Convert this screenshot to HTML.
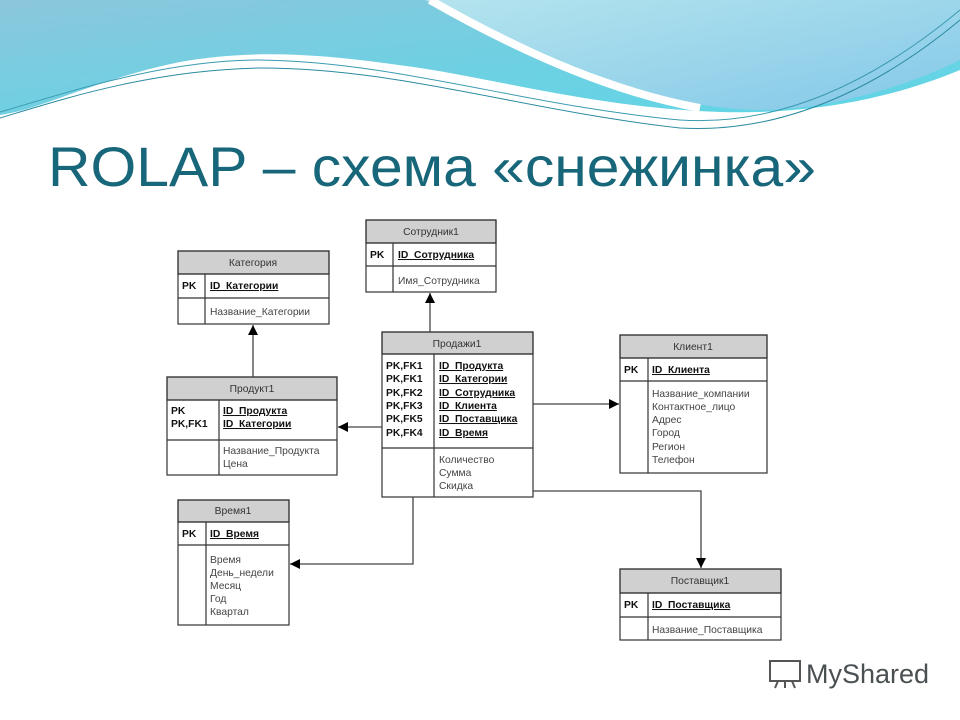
<!DOCTYPE html>
<html><head><meta charset="utf-8"><style>
html,body{margin:0;padding:0;background:#fff;}
svg{display:block;}
text{font-family:"Liberation Sans",sans-serif;}
.b{font-size:10.3px;font-weight:bold;fill:#111;}
.h{font-size:10.3px;fill:#333;}
.g{font-size:10.3px;fill:#444;}
</style></head><body>
<svg width="960" height="720" viewBox="0 0 960 720" xmlns="http://www.w3.org/2000/svg">
<defs>
<linearGradient id="bg1" x1="0" y1="0" x2="1" y2="1">
<stop offset="0" stop-color="#8cc6dc"/><stop offset="0.5" stop-color="#6fd0e2"/><stop offset="1" stop-color="#5fd6e6"/>
</linearGradient>
<linearGradient id="bg2" x1="0" y1="0" x2="1" y2="1">
<stop offset="0" stop-color="#b4e4ee"/><stop offset="1" stop-color="#84c8e8"/>
</linearGradient>
<marker id="ar" viewBox="0 0 10 10" refX="10" refY="5" markerWidth="10" markerHeight="10" markerUnits="userSpaceOnUse" orient="auto">
<path d="M0,0 L10,5 L0,10 z" fill="#000"/></marker>
</defs>
<path d="M0,0 H960 V70 C900,95 820,115 720,112 C600,108 500,80 420,68 C330,55 260,48 180,62 C100,78 40,110 0,115 Z" fill="url(#bg1)"/>
<path d="M425,0 H960 V60 C900,90 820,110 760,110 C650,108 560,60 425,0 Z" fill="url(#bg2)"/>
<path d="M430,0 C500,40 600,90 700,108" stroke="#fff" stroke-width="8" fill="none"/>
<path d="M0,118 C60,100 150,70 260,68 C400,68 520,110 680,128 C800,135 900,70 960,20" stroke="#2a8aa0" stroke-width="1" fill="none"/>
<path d="M0,112 C60,95 160,60 260,60 C400,62 520,105 680,120 C800,128 900,60 960,10" stroke="#3a9ab0" stroke-width="1" fill="none"/>
<text x="48" y="186" font-size="56" fill="#17667a" textLength="768" lengthAdjust="spacingAndGlyphs">ROLAP – схема «снежинка»</text>

<g stroke="#333" stroke-width="1.2" fill="none">
<rect x="178" y="251" width="151" height="23" fill="#d0d0d0"/>
<rect x="178" y="251" width="151" height="73"/>
<line x1="178" y1="274" x2="329" y2="274"/><line x1="178" y1="298" x2="329" y2="298"/><line x1="205" y1="274" x2="205" y2="324"/>
<rect x="366" y="220" width="130" height="23" fill="#d0d0d0"/>
<rect x="366" y="220" width="130" height="72"/>
<line x1="366" y1="243" x2="496" y2="243"/><line x1="366" y1="266" x2="496" y2="266"/><line x1="393" y1="243" x2="393" y2="292"/>
<rect x="382" y="332" width="151" height="22" fill="#d0d0d0"/>
<rect x="382" y="332" width="151" height="165"/>
<line x1="382" y1="354" x2="533" y2="354"/><line x1="382" y1="448" x2="533" y2="448"/><line x1="434" y1="354" x2="434" y2="497"/>
<rect x="167" y="377" width="170" height="23" fill="#d0d0d0"/>
<rect x="167" y="377" width="170" height="98"/>
<line x1="167" y1="400" x2="337" y2="400"/><line x1="167" y1="440" x2="337" y2="440"/><line x1="219" y1="400" x2="219" y2="475"/>
<rect x="620" y="335" width="147" height="23" fill="#d0d0d0"/>
<rect x="620" y="335" width="147" height="138"/>
<line x1="620" y1="358" x2="767" y2="358"/><line x1="620" y1="381" x2="767" y2="381"/><line x1="648" y1="358" x2="648" y2="473"/>
<rect x="178" y="500" width="111" height="22" fill="#d0d0d0"/>
<rect x="178" y="500" width="111" height="125"/>
<line x1="178" y1="522" x2="289" y2="522"/><line x1="178" y1="545" x2="289" y2="545"/><line x1="206" y1="522" x2="206" y2="625"/>
<rect x="620" y="569" width="161" height="24" fill="#d0d0d0"/>
<rect x="620" y="569" width="161" height="71"/>
<line x1="620" y1="593" x2="781" y2="593"/><line x1="620" y1="617" x2="781" y2="617"/><line x1="648" y1="593" x2="648" y2="640"/>
</g>

<g stroke="#444" stroke-width="1.3" fill="none">
<line x1="253" y1="377" x2="253" y2="325" marker-end="url(#ar)"/>
<line x1="430" y1="332" x2="430" y2="293" marker-end="url(#ar)"/>
<line x1="382" y1="427" x2="338" y2="427" marker-end="url(#ar)"/>
<line x1="533" y1="404" x2="619" y2="404" marker-end="url(#ar)"/>
<polyline points="533,491 701,491 701,568" marker-end="url(#ar)"/>
<polyline points="413,497 413,564 290,564" marker-end="url(#ar)"/>
</g>

<text class="h" x="253" y="266" text-anchor="middle">Категория</text>
<text class="b" x="182" y="289">PK</text>
<text class="b" x="210" y="289" text-decoration="underline">ID_Категории</text>
<text class="g" x="210" y="315">Название_Категории</text>

<text class="h" x="431" y="235" text-anchor="middle">Сотрудник1</text>
<text class="b" x="370" y="258">PK</text>
<text class="b" x="398" y="258" text-decoration="underline">ID_Сотрудника</text>
<text class="g" x="398" y="284">Имя_Сотрудника</text>

<text class="h" x="457" y="347" text-anchor="middle">Продажи1</text>
<text class="b" x="386" y="369">PK,FK1</text><text class="b" x="386" y="382">PK,FK1</text><text class="b" x="386" y="396">PK,FK2</text>
<text class="b" x="386" y="409">PK,FK3</text><text class="b" x="386" y="422">PK,FK5</text><text class="b" x="386" y="436">PK,FK4</text>
<text class="b" x="439" y="369" text-decoration="underline">ID_Продукта</text>
<text class="b" x="439" y="382" text-decoration="underline">ID_Категории</text>
<text class="b" x="439" y="396" text-decoration="underline">ID_Сотрудника</text>
<text class="b" x="439" y="409" text-decoration="underline">ID_Клиента</text>
<text class="b" x="439" y="422" text-decoration="underline">ID_Поставщика</text>
<text class="b" x="439" y="436" text-decoration="underline">ID_Время</text>
<text class="g" x="439" y="463">Количество</text>
<text class="g" x="439" y="476">Сумма</text>
<text class="g" x="439" y="489">Скидка</text>

<text class="h" x="252" y="392" text-anchor="middle">Продукт1</text>
<text class="b" x="171" y="414">PK</text>
<text class="b" x="171" y="427">PK,FK1</text>
<text class="b" x="223" y="414" text-decoration="underline">ID_Продукта</text>
<text class="b" x="223" y="427" text-decoration="underline">ID_Категории</text>
<text class="g" x="223" y="454">Название_Продукта</text>
<text class="g" x="223" y="467">Цена</text>

<text class="h" x="693" y="350" text-anchor="middle">Клиент1</text>
<text class="b" x="624" y="373">PK</text>
<text class="b" x="652" y="373" text-decoration="underline">ID_Клиента</text>
<text class="g" x="652" y="397">Название_компании</text>
<text class="g" x="652" y="410">Контактное_лицо</text>
<text class="g" x="652" y="423">Адрес</text>
<text class="g" x="652" y="436">Город</text>
<text class="g" x="652" y="450">Регион</text>
<text class="g" x="652" y="463">Телефон</text>

<text class="h" x="233" y="514" text-anchor="middle">Время1</text>
<text class="b" x="182" y="537">PK</text>
<text class="b" x="210" y="537" text-decoration="underline">ID_Время</text>
<text class="g" x="210" y="563">Время</text>
<text class="g" x="210" y="576">День_недели</text>
<text class="g" x="210" y="589">Месяц</text>
<text class="g" x="210" y="602">Год</text>
<text class="g" x="210" y="615">Квартал</text>

<text class="h" x="700" y="584" text-anchor="middle">Поставщик1</text>
<text class="b" x="624" y="608">PK</text>
<text class="b" x="652" y="608" text-decoration="underline">ID_Поставщика</text>
<text class="g" x="652" y="633">Название_Поставщика</text>

<g stroke="#555" stroke-width="2" fill="none">
<rect x="770" y="661" width="30" height="20"/>
<line x1="778" y1="681" x2="775" y2="688"/><line x1="785" y1="681" x2="785" y2="688"/><line x1="792" y1="681" x2="795" y2="688"/>
</g>
<text x="806" y="683" font-size="27" fill="#4a4f52">MyShared</text>
</svg>
</body></html>
